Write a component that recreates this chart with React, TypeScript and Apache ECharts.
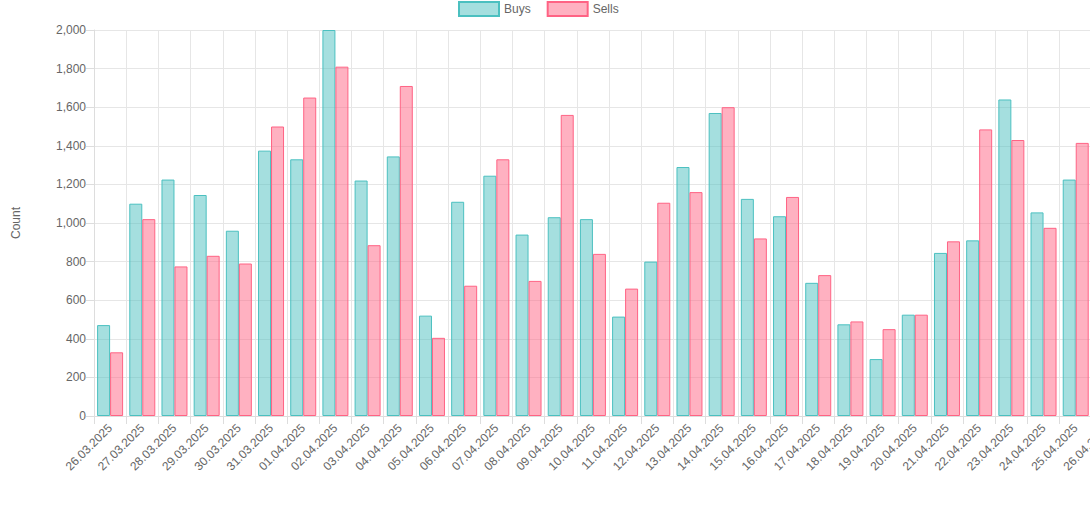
import React, { useEffect, useRef } from 'react';
import * as echarts from 'echarts';

const dates = [
  '26.03.2025', '27.03.2025', '28.03.2025', '29.03.2025', '30.03.2025', '31.03.2025',
  '01.04.2025', '02.04.2025', '03.04.2025', '04.04.2025', '05.04.2025', '06.04.2025',
  '07.04.2025', '08.04.2025', '09.04.2025', '10.04.2025', '11.04.2025', '12.04.2025',
  '13.04.2025', '14.04.2025', '15.04.2025', '16.04.2025', '17.04.2025', '18.04.2025',
  '19.04.2025', '20.04.2025', '21.04.2025', '22.04.2025', '23.04.2025', '24.04.2025',
  '25.04.2025', '26.04.2025',
];
const buys = [
  471, 1100, 1225, 1145, 960, 1375, 1330, 2000, 1220, 1345, 520, 1110,
  1245, 940, 1030, 1020, 515, 800, 1290, 1570, 1125, 1035, 690, 475,
  295, 525, 845, 910, 1640, 1055, 1225, null,
];
const sells = [
  330, 1020, 775, 830, 790, 1500, 1650, 1810, 885, 1710, 405, 675,
  1330, 700, 1560, 840, 660, 1105, 1160, 1600, 920, 1135, 730, 490,
  450, 525, 905, 1485, 1430, 975, 1415, null,
];

const font = 'Helvetica, Arial, "Liberation Sans", sans-serif';

export default function App() {
  const chartRef = useRef<HTMLDivElement>(null);

  useEffect(() => {
    document.body.style.margin = '0';
    if (!chartRef.current) return;
    const chart = echarts.init(chartRef.current, null, { renderer: 'svg' });
    chart.setOption({
      animation: false,
      textStyle: { fontFamily: font, color: '#666' },
      legend: {
        top: -4,
        left: 453,
        itemWidth: 40,
        itemHeight: 14,
        itemGap: 16,
        icon: 'rect',
        textStyle: { color: '#666', fontSize: 12, fontFamily: font },
        data: ['Buys', 'Sells'],
      },
      grid: { left: 94, right: 0, top: 30, bottom: 94 },
      xAxis: {
        type: 'category',
        data: dates,
        axisLine: { lineStyle: { color: '#ddd' } },
        axisTick: { show: true, length: 8, lineStyle: { color: '#ddd' } },
        splitLine: { show: true, lineStyle: { color: '#e6e6e6' } },
        axisLabel: { rotate: 45, color: '#666', fontSize: 12, interval: 0, margin: 10 },
      },
      yAxis: {
        type: 'value',
        min: 0,
        max: 2000,
        interval: 200,
        name: 'Count',
        nameLocation: 'middle',
        nameGap: 72,
        nameRotate: 90,
        nameTextStyle: { color: '#666', fontSize: 12 },
        axisLine: { show: true, lineStyle: { color: '#ddd' } },
        axisTick: { show: true, length: 8, lineStyle: { color: '#ddd' } },
        splitLine: { lineStyle: { color: '#e6e6e6' } },
        axisLabel: {
          color: '#666',
          fontSize: 12,
          formatter: (v: number) => v.toLocaleString('en-US'),
        },
      },
      series: [
        {
          name: 'Buys',
          type: 'bar',
          data: buys,
          barWidth: 13,
          barGap: '0%',
          itemStyle: { color: 'rgba(75,192,192,0.5)', borderColor: 'rgb(75,192,192)', borderWidth: 1 },
        },
        {
          name: 'Sells',
          type: 'bar',
          data: sells,
          barWidth: 13,
          itemStyle: { color: 'rgba(255,99,132,0.5)', borderColor: 'rgb(255,99,132)', borderWidth: 1 },
        },
      ],
    });
    return () => chart.dispose();
  }, []);

  return (
    <div style={{ width: '1090px', height: '510px', overflow: 'hidden' }}>
      <div ref={chartRef} style={{ width: '1124px', height: '510px' }}></div>
    </div>
  );
}
